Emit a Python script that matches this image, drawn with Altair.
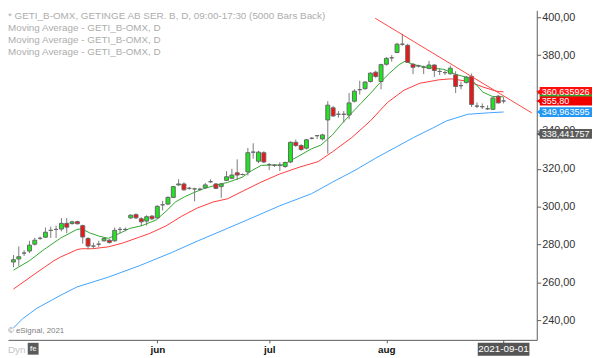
import altair as alt
import pandas as pd

# ---------------- data ----------------
opens = [270.8, 272.4, 275.5, 276.6, 280.2, 283.3, 283.9, 287.5, 288.0, 288.2,
         291.2, 291.1, 292.1, 290.0, 283.2, 279.2, 280.2, 282.0, 282.3, 282.0,
         288.0, 288.0, 294.1, 295.8, 293.6, 292.4, 295.0, 294.1, 301.0, 301.4,
         304.9, 311.5, 312.0, 309.7, 309.4, 309.2, 310.0, 313.2, 312.0, 310.6,
         313.9, 315.0, 317.9, 317.0, 318.4, 328.8, 324.0, 328.5, 322.2, 321.9,
         321.9, 321.2, 323.6, 334.0, 332.3, 330.9, 336.1, 337.5, 335.8, 345.8,
         352.2, 348.8, 348.8, 348.4, 355.7, 361.8, 362.3, 366.1, 371.0, 366.1,
         375.2, 378.6, 381.4, 385.8, 385.2, 375.2, 374.3, 373.6, 373.0, 374.8,
         371.4, 370.8, 370.2, 369.6, 363.9, 365.6, 368.8, 353.1, 352.8, 351.7,
         351.4, 358.3, 355.8]
highs = [274.5, 279.0, 277.0, 282.0, 283.5, 284.2, 289.0, 289.5, 290.0, 294.0,
         294.0, 292.6, 292.6, 290.5, 284.0, 281.0, 282.0, 283.8, 283.0, 289.0,
         289.3, 289.0, 296.0, 296.5, 294.5, 295.5, 295.6, 300.8, 303.0, 305.5,
         311.0, 314.5, 312.8, 310.5, 310.0, 310.0, 312.5, 314.5, 312.5, 312.5,
         318.8, 320.0, 325.0, 317.5, 331.0, 333.5, 329.5, 329.3, 323.0, 322.5,
         323.5, 323.8, 334.5, 335.5, 333.0, 335.8, 336.8, 337.8, 338.5, 355.7,
         353.2, 350.5, 350.5, 360.0, 362.0, 366.5, 366.3, 371.0, 371.8, 375.5,
         379.0, 380.0, 386.5, 391.3, 386.0, 375.8, 375.0, 374.5, 377.0, 375.2,
         373.0, 372.0, 374.5, 371.5, 366.0, 369.0, 370.3, 355.0, 354.5, 353.5,
         358.0, 359.0, 357.8]
lows = [268.0, 268.5, 274.0, 275.5, 279.5, 282.5, 283.5, 283.5, 283.5, 287.0,
        286.0, 290.5, 290.6, 280.5, 277.5, 277.8, 278.8, 281.5, 280.5, 281.5,
        286.0, 287.0, 293.5, 293.5, 289.7, 290.0, 293.0, 293.5, 298.0, 300.8,
        304.5, 311.0, 308.5, 309.0, 302.8, 308.5, 309.5, 312.5, 309.3, 304.7,
        313.5, 314.5, 314.0, 316.5, 316.5, 325.4, 323.0, 323.0, 319.3, 321.0,
        318.8, 320.5, 323.0, 331.5, 329.5, 330.2, 335.5, 335.8, 335.0, 328.0,
        347.5, 347.0, 344.4, 346.2, 355.0, 359.2, 361.8, 365.5, 368.0, 362.0,
        374.5, 376.6, 381.0, 385.0, 376.0, 370.0, 373.5, 370.0, 372.5, 368.5,
        369.5, 369.5, 369.8, 360.0, 362.0, 365.0, 352.6, 352.0, 351.5, 351.0,
        351.0, 354.5, 354.5]
closes = [272.0, 273.6, 275.5, 279.7, 282.3, 283.3, 286.5, 287.5, 288.0, 291.2,
          289.2, 292.0, 291.0, 284.0, 279.2, 279.2, 280.2, 283.2, 281.1, 287.5,
          288.0, 288.0, 295.5, 294.1, 292.0, 294.7, 293.6, 300.2, 301.0, 304.9,
          310.6, 312.0, 308.9, 309.7, 309.4, 309.2, 311.5, 313.2, 309.7, 312.0,
          315.8, 316.7, 316.7, 317.0, 328.5, 328.8, 328.8, 323.6, 322.2, 321.9,
          321.9, 323.3, 334.0, 332.3, 330.2, 335.3, 336.1, 337.5, 337.9, 353.6,
          347.9, 348.8, 348.8, 354.8, 361.0, 361.8, 365.8, 370.5, 368.8, 375.0,
          378.3, 378.6, 385.8, 385.8, 376.2, 373.6, 374.3, 373.6, 374.8, 371.9,
          371.4, 370.8, 373.1, 363.5, 363.9, 368.4, 354.0, 353.1, 352.8, 351.7,
          357.4, 354.8, 355.8]

green_idx = [0, 3.0, 5.8, 8.9, 11.9, 12.8, 14.3, 16.0, 17.8, 19.6, 21.8, 24.1, 26.8, 28.6, 30.4,
             32.1, 33.9, 35.7, 38.1, 40.2, 42.9, 44.7, 46.5, 48.2, 50.6, 51.8, 53.6, 55.9, 57.7,
             59.9, 61.7, 63.5, 65.2, 67.4, 68.8, 70.6, 72.4, 73.5, 75.1, 77.8, 80.8, 83.1, 85.5,
             86.7, 88.1, 89.9, 92]
green_val = [266.5, 271.5, 277.5, 283.5, 288.0, 288.3, 286.2, 284.5, 283.3, 285.5, 288.5, 290.0,
             293.0, 297.5, 302.5, 305.2, 307.5, 309.5, 311.5, 312.8, 315.5, 319.0, 321.8, 322.0,
             322.0, 324.0, 326.8, 330.5, 332.5, 338.0, 344.0, 349.5, 354.5, 361.0, 365.5, 370.5,
             375.0, 376.8, 375.0, 373.5, 372.5, 369.8, 368.0, 365.0, 360.5, 358.2, 358.0]

red_idx = [0, 3.5, 5.8, 7.6, 8.9, 11.9, 12.8, 14.8, 17.8, 20.5, 23.7, 25.5, 28.6, 31.6, 34.5,
           37.5, 40.2, 42.9, 46.5, 50.0, 53.6, 57.2, 59.9, 63.5, 67.0, 70.2, 73.3, 76.3, 79.9,
           82.2, 85.3, 88.1, 90.6, 92]
red_val = [256.5, 263.5, 268.0, 271.5, 273.5, 277.3, 277.8, 277.8, 278.8, 280.8, 284.0, 285.8,
           289.8, 295.0, 299.3, 302.5, 304.2, 308.0, 313.0, 317.3, 320.8, 323.8, 329.0, 336.5,
           345.3, 355.0, 361.5, 365.2, 367.0, 367.5, 366.2, 363.2, 361.0, 360.6]

blue_idx = [0, 1.7, 4.4, 8.9, 11.9, 17.8, 23.7, 29.8, 34.5, 40.2, 44.7, 50.0, 55.9, 59.9, 64.3,
            67.9, 71.5, 75.1, 78.7, 81.3, 85.3, 89.4, 92]
blue_val = [236.0, 240.8, 246.4, 253.3, 257.6, 262.8, 268.9, 275.9, 281.8, 288.6, 294.0, 300.5,
            306.8, 313.0, 319.5, 325.5, 331.0, 336.5, 341.5, 345.3, 348.8, 349.6, 350.0]

trend_idx = [67.9, 97.3]
trend_val = [399.5, 349.5]

month_ticks = [27, 48, 70]
month_labels = ["jun", "jul", "aug"]
last_date_idx = 92
last_date_label = "2021-09-01"

y_ticks = [240, 260, 280, 300, 320, 340, 360, 380, 400]
y_hidden_label = 360  # covered by the price tags in the reference

tag_values = [360.635926, 358.6, 355.80, 349.963595, 338.441757]
tag_labels = ["360,635926", "", "355,80", "349,963595", "338,441757"]
tag_colors = ["#ff1010", "#2ea82e", "#f00000", "#2196f3", "#5a5a5a"]
tag_half = [2.6, 0.6, 2.4, 2.6, 2.6]

legend_lines = [
    "* GETI_B-OMX, GETINGE AB SER. B, D, 09:00-17:30 (5000 Bars Back)",
    "Moving Average - GETI_B-OMX, D",
    "Moving Average - GETI_B-OMX, D",
    "Moving Average - GETI_B-OMX, D",
]
copyright_text = "\u00a9 eSignal, 2021"

# ---------------- chart ----------------
W, H = 536, 334
FONT = "Liberation Sans"

xs = alt.Scale(domain=[-0.1, 97.3], nice=False, zero=False)
ys = alt.Scale(domain=[229.7, 403.65], nice=False, zero=False)

label_expr = " : ".join(f"datum.value == {t} ? '{l}'" for t, l in zip(month_ticks, month_labels)) + " : ''"
y_label_expr = (f"datum.value == {y_hidden_label} ? '' : "
                "replace(format(datum.value, '.2f'), '.', ',')")

x_axis = alt.Axis(values=month_ticks + [last_date_idx], labelExpr=label_expr, grid=False,
                  domainColor="#5a5a5a", tickColor="#5a5a5a", tickSize=3, labelFont=FONT,
                  labelFontSize=10, labelFontWeight="bold", labelColor="#111111", labelPadding=2,
                  title=None, labelFlush=False, labelOverlap=False)
y_axis = alt.Axis(orient="right", values=y_ticks, labelExpr=y_label_expr, grid=False,
                  domainColor="#5a5a5a", tickColor="#5a5a5a", tickSize=4, labelFont=FONT,
                  labelFontSize=11, labelColor="#333333", labelPadding=1, title=None)


def X(field):
    return alt.X(f"{field}:Q", scale=xs, axis=x_axis)


def Y(field):
    return alt.Y(f"{field}:Q", scale=ys, axis=y_axis)


df = pd.DataFrame({"idx": list(range(len(opens))), "o": opens, "h": highs, "l": lows, "c": closes})
df["dir"] = ["up" if c > o else ("down" if c < o else "flat") for o, c in zip(opens, closes)]


def ma_line(ix, vals, color):
    d = pd.DataFrame({"idx": ix, "v": vals})
    return alt.Chart(d).mark_line(color=color, strokeWidth=1, clip=True).encode(x=X("idx"), y=Y("v"))


blue = ma_line(blue_idx, blue_val, "#3fa3ff")
red = ma_line(red_idx, red_val, "#ff3b3b")
green = ma_line(green_idx, green_val, "#2fa82f")

wicks = alt.Chart(df).mark_rule(color="#7a7a7a", strokeWidth=1, clip=True).encode(
    x=X("idx"), y=Y("l"), y2="h:Q")
bodies = alt.Chart(df).mark_bar(size=4, stroke="#686868", strokeWidth=1, clip=True).encode(
    x=X("idx"), y=Y("o"), y2="c:Q",
    color=alt.Color("dir:N", scale=alt.Scale(domain=["up", "down", "flat"],
                                             range=["#1ee61e", "#f01414", "#8a8a8a"]), legend=None))

trend = alt.Chart(pd.DataFrame({"idx": trend_idx, "v": trend_val})).mark_line(
    color="#ff4545", strokeWidth=1, clip=True).encode(x=X("idx"), y=Y("v"))

tag_df = pd.DataFrame({"v": tag_values, "label": tag_labels, "color": tag_colors, "half": tag_half})
tag_rect = alt.Chart(tag_df).transform_calculate(
    lo="datum.v - datum.half", hi="datum.v + datum.half").mark_rect().encode(
    x=alt.value(W + 3), x2=alt.value(W + 56), y=Y("lo"), y2="hi:Q",
    color=alt.Color("color:N", scale=None))
tag_tip = alt.Chart(tag_df).transform_filter("datum.label != ''").mark_point(
    shape="triangle-left", filled=True, size=32, opacity=1).encode(
    x=alt.value(W + 2), y=Y("v"), color=alt.Color("color:N", scale=None))
tag_text = alt.Chart(tag_df).transform_filter("datum.label != ''").mark_text(
    align="left", baseline="middle", fontSize=9.2, font=FONT, color="white").encode(
    x=alt.value(W + 5), y=Y("v"), text="label:N")

date_df = pd.DataFrame({"idx": [last_date_idx], "label": [last_date_label]})
date_rect = alt.Chart(date_df).transform_calculate(
    a="datum.idx - 4.85", b="datum.idx + 4.85").mark_rect(color="#555555").encode(
    x=X("a"), x2="b:Q", y=alt.value(H + 3), y2=alt.value(H + 16))
date_text = alt.Chart(date_df).mark_text(
    fontSize=10, font=FONT, color="white", baseline="middle").encode(
    x=X("idx"), y=alt.value(H + 9.5), text="label:N")

legend = alt.Chart(pd.DataFrame({"t": ["\n".join(legend_lines)]})).mark_text(
    align="left", baseline="top", lineBreak="\n", lineHeight=12, fontSize=10, font=FONT,
    color="#adadad").encode(x=alt.value(0), y=alt.value(1), text="t:N")

copy_txt = alt.Chart(pd.DataFrame({"t": [copyright_text]})).mark_text(
    align="left", baseline="middle", fontSize=8, font=FONT, color="#808080").encode(
    x=alt.value(0), y=alt.value(H - 9), text="t:N")

dyn_txt = alt.Chart(pd.DataFrame({"t": ["Dyn"]})).mark_text(
    align="left", baseline="middle", fontSize=10, font=FONT, color="#c4c4c4").encode(
    x=alt.value(0), y=alt.value(H + 10), text="t:N")
icon_rect = alt.Chart(pd.DataFrame({"t": ["fe"]})).mark_rect(color="#5a5a5a").encode(
    x=alt.value(20), x2=alt.value(31), y=alt.value(H + 3), y2=alt.value(H + 15))
icon_txt = alt.Chart(pd.DataFrame({"t": ["fe"]})).mark_text(
    align="center", baseline="middle", fontSize=8, fontWeight="bold", font=FONT,
    color="#dddddd").encode(x=alt.value(25.5), y=alt.value(H + 9.5), text="t:N")

chart = alt.layer(
    blue, red, green, wicks, bodies, trend,
    tag_rect, tag_tip, tag_text, date_rect, date_text,
    legend, copy_txt, dyn_txt, icon_rect, icon_txt,
).properties(
    width=W, height=H,
    autosize=alt.AutoSizeParams(type="none"),
    padding={"left": 0, "top": 0, "right": 56, "bottom": 16},
    background="white",
).configure_view(stroke=None)

chart.save("out.html", embed_options={"renderer": "svg", "actions": False})
